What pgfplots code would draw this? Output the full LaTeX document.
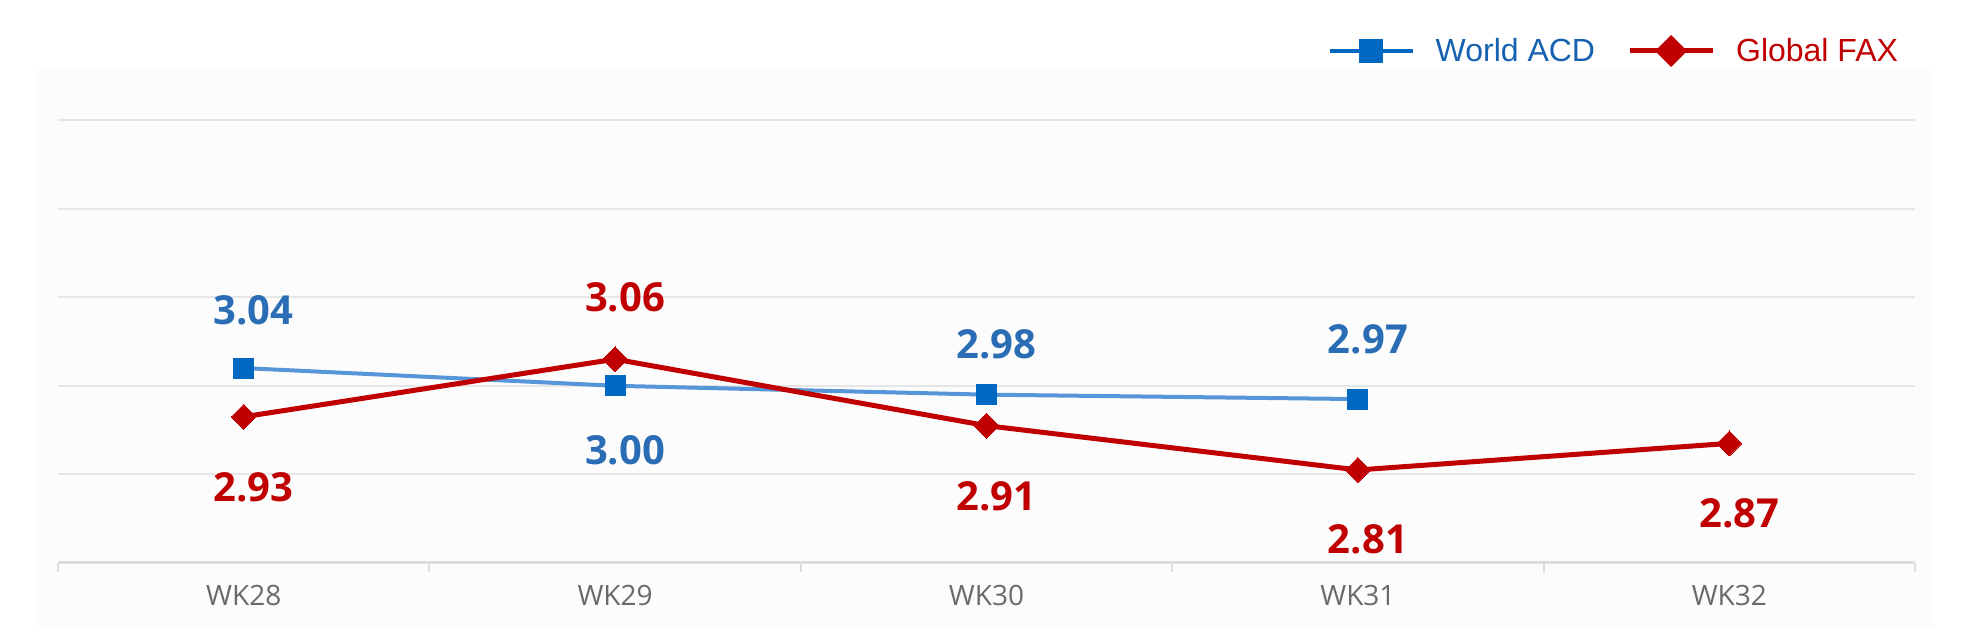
\documentclass[border=0pt]{standalone}
\usepackage{pgfplots}
\pgfplotsset{compat=1.18}
\usepackage{pgfplotstable}
\usepackage{fontspec}
\setmainfont{Open Sans}
\newfontfamily\legfont{Liberation Sans}
\definecolor{acdline}{HTML}{5595D8}
\definecolor{acdmark}{HTML}{0068C0}
\definecolor{acdtext}{HTML}{2A6DB5}
\definecolor{acdleg}{HTML}{1661B0}
\definecolor{faxred}{HTML}{C00000}
\definecolor{gridc}{HTML}{E6E6E6}
\definecolor{axisc}{HTML}{DCDCDC}
\definecolor{tickc}{HTML}{6A6A6A}
\definecolor{panel}{HTML}{FCFCFC}

\pgfplotstableread{
x y dy lab
0 3.04 29 3.04
1 3.00 -32 3.00
2 2.98 25 2.98
3 2.97 30 2.97
}\acd
\pgfplotstableread{
x y dy lab
0 2.93 -35 2.93
1 3.06 31 3.06
2 2.91 -35.5 2.91
3 2.81 -34.5 2.81
4 2.87 -35 2.87
}\fax

\begin{document}
\begin{tikzpicture}
\useasboundingbox (0,0) rectangle (984pt,320pt);
\fill[panel] (18.5pt,6pt) rectangle (967pt,285pt);
\begin{axis}[
  at={(29pt,38.5pt)}, anchor=south west,
  scale only axis, width=928.5pt, height=221.5pt,
  xmin=-0.5, xmax=4.5, ymin=2.6, ymax=3.6,
  clip=false,
  axis x line*=bottom, axis y line*=left,
  y axis line style={draw=none},
  x axis line style={draw=axisc, line width=1.5pt},
  xtick={0,1,2,3,4},
  xticklabels={WK28,WK29,WK30,WK31,WK32},
  minor xtick={-0.5,0.5,1.5,2.5,3.5,4.5},
  tick align=outside,
  major tick length=0pt,
  minor tick length=4.5pt,
  minor tick style={draw=axisc, line width=1pt},
  xticklabel style={font=\fontsize{14}{16}\selectfont, text=tickc, inner sep=0pt, anchor=north, yshift=-11pt},
  ytick={2.8,3.0,3.2,3.4,3.6},
  yticklabels={},
  ytick style={draw=none},
  ymajorgrids,
  grid style={draw=gridc, line width=1pt},
  legend columns=2,
  legend style={at={(0.6835,1.1558)}, anchor=west, draw=none, fill=none,
    inner sep=0pt, font=\legfont\fontsize{16}{18}\selectfont,
    column sep=10.5pt,
    /tikz/every even column/.append style={column sep=16pt},
    nodes={inner sep=0pt}},
  nodes near coords,
  point meta=explicit symbolic,
]
\addplot[acdline, line width=2pt, mark=square*,
  mark options={fill=acdmark, draw=acdmark, line width=0pt}, mark size=5pt,
  visualization depends on={\thisrow{dy}\as\dy},
  every node near coord/.append style={anchor=center, xshift=5pt, yshift=\dy pt,
     font=\bfseries\fontsize{20}{22}\selectfont, text=acdtext, inner sep=0pt},
  legend image code/.code={
    \draw[acdmark, line width=2pt] (0pt,0pt) -- (41.5pt,0pt);
    \fill[acdmark] (15.75pt,-5pt) rectangle (25.75pt,5pt);
  }]
  table[x=x, y=y, meta=lab] {\acd};
\addlegendentry{\textcolor{acdleg}{World ACD}}
\addplot[faxred, line width=2.5pt, mark=square*,
  mark options={fill=faxred, draw=faxred, line width=0pt, rotate=45}, mark size=4.4pt,
  visualization depends on={\thisrow{dy}\as\dy},
  every node near coord/.append style={anchor=center, xshift=5pt, yshift=\dy pt,
     font=\bfseries\fontsize{20}{22}\selectfont, text=faxred, inner sep=0pt},
  legend image code/.code={
    \draw[faxred, line width=2.5pt] (0pt,0pt) -- (41.5pt,0pt);
    \fill[faxred] (20.75pt,-6.2pt) -- (26.95pt,0pt) -- (20.75pt,6.2pt) -- (14.55pt,0pt) -- cycle;
  }]
  table[x=x, y=y, meta=lab] {\fax};
\addlegendentry{\textcolor{faxred}{Global FAX}}
\end{axis}
\end{tikzpicture}
\end{document}
